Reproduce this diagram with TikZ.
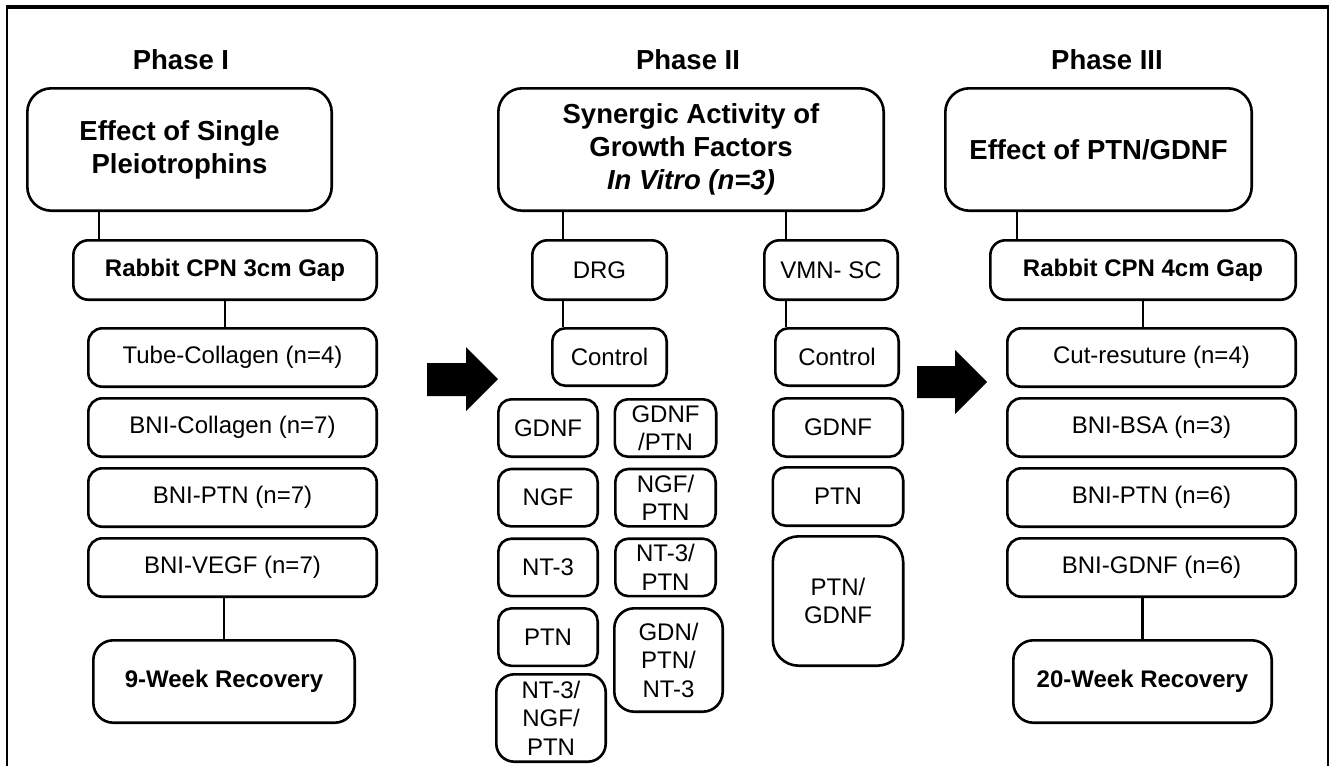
\documentclass[tikz,border=0pt]{standalone}
\usepackage{fontspec}
\setmainfont{Liberation Sans}
\usetikzlibrary{positioning, calc}

\newcommand{\headsize}{\fontsize{27.5pt}{33pt}\selectfont\bfseries}
\newcommand{\bodysize}{\fontsize{24pt}{28.5pt}\selectfont}

\begin{document}
\begin{tikzpicture}[
    x=1pt, y=-1pt,
    node distance = 9pt,
    phase/.style   = {font=\headsize, inner sep=0pt},
    topbox/.style  = {rectangle, draw=black, line width=2.6pt, rounded corners=24pt,
                      minimum height=122.4pt, inner sep=0pt, align=center, font=\headsize},
    grpbox/.style  = {rectangle, draw=black, line width=2.6pt, rounded corners=15pt,
                      minimum height=59.4pt, inner sep=0pt, align=center, font=\bodysize\bfseries},
    armbox/.style  = {rectangle, draw=black, line width=2.6pt, rounded corners=14pt,
                      minimum height=58.4pt, inner sep=0pt, align=center, font=\bodysize},
    recbox/.style  = {rectangle, draw=black, line width=2.6pt, rounded corners=20pt,
                      minimum height=82.4pt, inner sep=0pt, align=center, font=\bodysize\bfseries},
    cell/.style    = {rectangle, draw=black, line width=2.6pt, rounded corners=13pt,
                      minimum height=57.4pt, inner sep=0pt, align=center, font=\bodysize},
    link/.style    = {line width=2.6pt},
    bigarrow/.style = {fill=black}
]
\useasboundingbox (0,0) rectangle (1336,766);

%% -- Frame --------------------------------------------------
\draw[line width=2.5pt] (7,766) -- (7,7) (1328,7) -- (1328,766);
\draw[line width=4pt] (6,7) -- (1329,7);

%% -- Phase I ------------------------------------------------
\node[phase] (ph1) at (181,60) {Phase I};
\node[topbox, minimum width=304.4pt] (p1top) at (179.5,149.5) {Effect of Single\\Pleiotrophins};
\node[grpbox, minimum width=303.4pt] (p1gap) at (225,270) {Rabbit CPN 3cm Gap};
\node[armbox, minimum width=288.4pt] (p1tube) at (232.5,357.5) {Tube-Collagen (n=4)};
\node[armbox, minimum width=288.4pt, below=9pt of p1tube] (p1coll) {BNI-Collagen (n=7)};
\node[armbox, minimum width=288.4pt, below=9pt of p1coll] (p1ptn)  {BNI-PTN (n=7)};
\node[armbox, minimum width=288.4pt, below=9pt of p1ptn]  (p1vegf) {BNI-VEGF (n=7)};
\node[recbox, minimum width=261.4pt] (p1rec) at (224,681.5) {9-Week Recovery};

\draw[link] ([xshift=27pt]p1gap.north west) -- ([xshift=27pt]p1gap.north west |- p1top.south);
\draw[link] (p1gap.south) -- (p1gap.south |- p1tube.north);
\draw[link] (p1rec.north) -- (p1rec.north |- p1vegf.south);

%% -- Phase II -----------------------------------------------
\node[phase] (ph2) at (688,60) {Phase II};
\node[topbox, minimum width=385.4pt] (p2top) at (691,149.5)
     {Synergic Activity of\\Growth Factors\\\itshape In Vitro (n=3)};
\node[armbox, minimum width=134.4pt, minimum height=59.4pt, rounded corners=15pt] (drg) at (599.5,270) {DRG};
\node[armbox, minimum width=133.4pt, minimum height=59.4pt, rounded corners=15pt] (vmn) at (831,270) {VMN- SC};
\node[cell, minimum width=114.4pt] (drgctl) at (609.5,357) {Control};
\node[cell, minimum width=123.4pt] (vmnctl) at (837,357) {Control};

% DRG: single factors
\node[cell, minimum width=99.4pt] (gdnf) at (548,428) {GDNF};
\node[cell, minimum width=99.4pt, below=9.7pt of gdnf] (ngf) {NGF};
\node[cell, minimum width=99.4pt, below=9.7pt of ngf]  (nt3) {NT-3};
\node[cell, minimum width=99.4pt, below=9.7pt of nt3]  (ptn) {PTN};
\node[cell, minimum width=109.4pt, minimum height=87.4pt, rounded corners=18pt] (ntngfptn) at (551,718) {NT-3/\\NGF/\\PTN};

% DRG: combinations
\node[cell, minimum width=101.4pt] (gdnfptn) at (665.5,428) {GDNF\\/PTN};
\node[cell, minimum width=100.4pt, below=9.7pt of gdnfptn] (ngfptn) {NGF/\\PTN};
\node[cell, minimum width=100.4pt, below=9.7pt of ngfptn]  (nt3ptn) {NT-3/\\PTN};
\node[cell, minimum width=108.4pt, minimum height=103.4pt, rounded corners=20pt] (gdnptnnt3) at (668.5,660) {GDN/\\PTN/\\NT-3};

% VMN-SC
\node[cell, minimum width=129.4pt, minimum height=58.4pt] (vgdnf) at (838,427.5) {GDNF};
\node[cell, minimum width=130.4pt, minimum height=58.4pt, below=8pt of vgdnf] (vptn) {PTN};
\node[cell, minimum width=130.4pt, minimum height=129.4pt, rounded corners=26pt, below=8pt of vptn] (vptngdnf) {PTN/\\GDNF};

\draw[link] ([xshift=32pt]drg.north west) -- ([xshift=32pt]drg.north west |- p2top.south);
\draw[link] ([xshift=32pt]drg.south west) -- ([xshift=32pt]drg.south west |- drgctl.north);
\draw[link] ([xshift=23pt]vmn.north west) -- ([xshift=23pt]vmn.north west |- p2top.south);
\draw[link] ([xshift=23pt]vmn.south west) -- ([xshift=23pt]vmn.south west |- vmnctl.north);

%% -- Phase III ----------------------------------------------
\node[phase] (ph3) at (1107,60) {Phase III};
\node[topbox, minimum width=306.4pt] (p3top) at (1098.5,149.5) {Effect of PTN/GDNF};
\node[grpbox, minimum width=305.4pt] (p3gap) at (1143,270) {Rabbit CPN 4cm Gap};
\node[armbox, minimum width=288.4pt] (p3cut) at (1151.5,357.5) {Cut-resuture (n=4)};
\node[armbox, minimum width=288.4pt, below=9pt of p3cut] (p3bsa)  {BNI-BSA (n=3)};
\node[armbox, minimum width=288.4pt, below=9pt of p3bsa] (p3ptn)  {BNI-PTN (n=6)};
\node[armbox, minimum width=288.4pt, below=9pt of p3ptn] (p3gdnf) {BNI-GDNF (n=6)};
\node[recbox, minimum width=258.4pt] (p3rec) at (1142.5,681.5) {20-Week Recovery};

\draw[link] ([xshift=28pt]p3gap.north west) -- ([xshift=28pt]p3gap.north west |- p3top.south);
\draw[link] (p3gap.south) -- (p3gap.south |- p3cut.north);
\draw[link] (p3rec.north) -- (p3rec.north |- p3gdnf.south);

%% -- Arrows between phases ----------------------------------
\fill[bigarrow] (427,363) -- (466,363) -- (466,347) -- (498,379) -- (466,411) -- (466,396) -- (427,396) -- cycle;
\fill[bigarrow] (917,366) -- (955,366) -- (955,350) -- (987,382) -- (955,414) -- (955,398) -- (917,398) -- cycle;

\end{tikzpicture}
\end{document}
